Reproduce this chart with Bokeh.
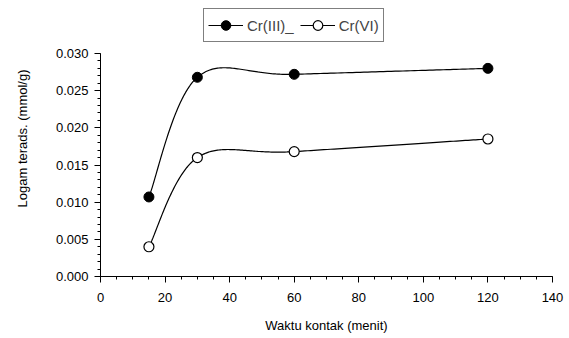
import numpy as np
from bokeh.plotting import figure
from bokeh.models import Legend, LegendItem, Range1d, FixedTicker, NumeralTickFormatter
from bokeh.embed import file_html
from bokeh.resources import INLINE

waktu = [15, 30, 60, 120]
cr3 = [0.0107, 0.0268, 0.0272, 0.0280]
cr6 = [0.0040, 0.0160, 0.0168, 0.0185]
x_ticks = [0, 20, 40, 60, 80, 100, 120, 140]
y_ticks = [0.000, 0.005, 0.010, 0.015, 0.020, 0.025, 0.030]

FONT = "Liberation Sans"


def catmull_rom(xs, ys, n=60):
    P = np.column_stack([xs, ys]).astype(float)
    P = np.vstack([P[0], P, P[-1]])
    out = []
    t = np.linspace(0, 1, n)
    h00 = 2 * t**3 - 3 * t**2 + 1
    h10 = t**3 - 2 * t**2 + t
    h01 = -2 * t**3 + 3 * t**2
    h11 = t**3 - t**2
    for i in range(1, len(P) - 2):
        m1 = (P[i + 1] - P[i - 1]) / 2
        m2 = (P[i + 2] - P[i]) / 2
        seg = (h00[:, None] * P[i] + h10[:, None] * m1
               + h01[:, None] * P[i + 1] + h11[:, None] * m2)
        out.append(seg)
    c = np.vstack(out)
    return c[:, 0], c[:, 1]


# frame: left 100, right 552, y=0 at px 276, y=0.030 at px 53 (frame extends to top for legend)
y_top = 0.030 * 276 / (276 - 53)

p = figure(width=569, height=338, output_backend="svg", toolbar_location=None,
           x_range=Range1d(0, 140), y_range=Range1d(0, y_top),
           min_border_left=100, min_border_right=17, min_border_top=0, min_border_bottom=62)
p.outline_line_color = None
p.grid.grid_line_color = None
p.background_fill_color = "white"
p.border_fill_color = "white"

x3, y3 = catmull_rom(waktu, cr3)
x6, y6 = catmull_rom(waktu, cr6)
l3 = p.line(x3, y3, line_color="black", line_width=1.2)
s3 = p.scatter(waktu, cr3, size=10, fill_color="black", line_color="black", line_width=1)
l6 = p.line(x6, y6, line_color="black", line_width=1.2)
s6 = p.scatter(waktu, cr6, size=10, fill_color="white", line_color="black", line_width=1.2)

for ax in (p.xaxis[0], p.yaxis[0]):
    ax.axis_line_color = "black"
    ax.major_tick_line_color = "black"
    ax.minor_tick_line_color = "black"
    ax.major_tick_out = 6
    ax.major_tick_in = 0
    ax.minor_tick_out = 3
    ax.minor_tick_in = 0
    ax.major_label_text_font = FONT
    ax.major_label_text_font_size = "13px"
    ax.major_label_text_color = "black"
    ax.axis_label_text_font = FONT
    ax.axis_label_text_font_size = "13px"
    ax.axis_label_text_font_style = "normal"
    ax.axis_label_text_color = "black"

p.xaxis.ticker = FixedTicker(ticks=x_ticks, minor_ticks=list(range(0, 141, 5)))
p.yaxis.ticker = FixedTicker(ticks=y_ticks, minor_ticks=[i / 1000 for i in range(0, 31)])
p.yaxis.bounds = (0, 0.030)
p.yaxis.formatter = NumeralTickFormatter(format="0.000")
p.xaxis.axis_label = "Waktu kontak (menit)"
p.yaxis.axis_label = "Logam terads. (mmol/g)"
p.xaxis.major_label_standoff = 10
p.xaxis.axis_label_standoff = 13
p.yaxis.major_label_standoff = 6
p.yaxis.axis_label_standoff = 23

legend = Legend(items=[LegendItem(label="Cr(III)_", renderers=[l3, s3]),
                       LegendItem(label="Cr(VI)", renderers=[l6, s6])],
                orientation="horizontal", location=(103, 234),
                border_line_color="black", border_line_width=1.2,
                label_text_font=FONT, label_text_font_size="15px",
                glyph_width=35, glyph_height=24, spacing=6, padding=4,
                label_standoff=4, margin=0, background_fill_alpha=1)
p.add_layout(legend, "center")

open("out.html", "w").write(file_html(p, INLINE))
